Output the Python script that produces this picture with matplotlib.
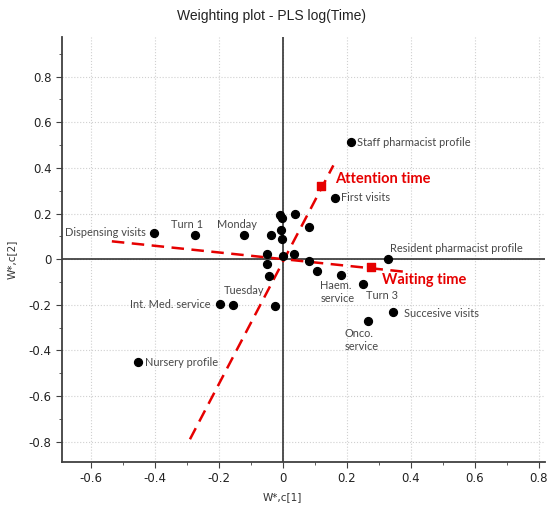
import numpy as np
import matplotlib.pyplot as plt
from matplotlib.ticker import MultipleLocator

# weights of the X variables (w*c[1], w*c[2])
labels = ["Staff pharmacist profile", "First visits", "Resident pharmacist profile",
          "Dispensing visits", "Turn 1", "Monday", "Tuesday", "Int. Med. service",
          "Nursery profile", "Haem.\nservice", "Turn 3", "Succesive visits", "Onco.\nservice"]
lab_x = [0.214, 0.164, 0.328, -0.403, -0.274, -0.120, -0.024, -0.196, -0.451, 0.183, 0.252, 0.344, 0.265]
lab_y = [0.513, 0.268, 0.000, 0.113, 0.105, 0.105, -0.205, -0.196, -0.452, -0.070, -0.110, -0.232, -0.272]

# unlabelled points near the origin
other_x = [-0.010, -0.001, 0.037, 0.083, -0.007, -0.037, -0.003, -0.048, 0.000, 0.035, 0.081, -0.050, -0.043, -0.156, 0.107]
other_y = [0.194, 0.180, 0.199, 0.139, 0.129, 0.104, 0.088, 0.023, 0.015, 0.022, -0.007, -0.022, -0.076, -0.200, -0.053]

# Y responses
resp = ["Attention time", "Waiting time"]
resp_x = [0.120, 0.276]
resp_y = [0.321, -0.034]
# ends of the dashed direction lines
line_x = [[-0.290, 0.158], [-0.534, 0.391]]
line_y = [[-0.790, 0.411], [0.078, -0.057]]

# label offsets in pixels (layout)
offs = [(6, 0, "left"), (6, 0, "left"), (2, 11, "left"), (-8, 1, "right"), (-8, 11, "center"),
        (-7, 11, "center"), (-31, 15, "center"), (-10, -1, "right"), (7, 0, "left"),
        (-21, -17, "left"), (3, -11, "left"), (11, -1, "left"), (-23, -19, "left")]
resp_offs = [(14, 7), (11, -13)]

red = "#e60000"
fig = plt.figure(figsize=(5.48, 5.18), dpi=100)
ax = fig.add_axes([0.113, 0.108, 0.882, 0.821])

ax.set_xlim(-0.69, 0.82)
ax.set_ylim(-0.89, 0.975)
ax.xaxis.set_major_locator(MultipleLocator(0.2))
ax.xaxis.set_minor_locator(MultipleLocator(0.1))
ax.yaxis.set_major_locator(MultipleLocator(0.2))
ax.yaxis.set_minor_locator(MultipleLocator(0.1))
ax.grid(True, which="major", color="#d0d0d0", linestyle=":", linewidth=0.8)
ax.set_axisbelow(True)
for s in ["top", "right"]:
    ax.spines[s].set_visible(False)
for s in ["left", "bottom"]:
    ax.spines[s].set_color("#404040")
    ax.spines[s].set_linewidth(1.3)
ax.tick_params(which="major", length=4, color="#404040", labelsize=8.5, labelcolor="#222222")
ax.tick_params(which="minor", length=2, color="#404040")
fmt = lambda v, p: "0" if abs(v) < 1e-9 else ("%.1f" % v)
ax.xaxis.set_major_formatter(plt.FuncFormatter(fmt))
ax.yaxis.set_major_formatter(plt.FuncFormatter(fmt))

ax.axhline(0, color="#333333", lw=1.2, zorder=1)
ax.axvline(0, color="#333333", lw=1.2, zorder=1)

for lx, ly in zip(line_x, line_y):
    ax.plot(lx, ly, color=red, lw=1.8, dashes=(5, 3), zorder=2)

ax.scatter(lab_x + other_x, lab_y + other_y, s=32, color="black", zorder=3)
ax.scatter(resp_x, resp_y, s=32, marker="s", color=red, zorder=3)

for t, x, y, (dx, dy, ha) in zip(labels, lab_x, lab_y, offs):
    ax.annotate(t, (x, y), xytext=(dx, dy), textcoords="offset pixels", ha=ha, va="center",
                fontsize=7.9, color="#474747", family="Lato", linespacing=1.25)
for t, x, y, (dx, dy) in zip(resp, resp_x, resp_y, resp_offs):
    ax.annotate(t, (x, y), xytext=(dx, dy), textcoords="offset pixels", ha="left", va="center",
                fontsize=10.5, color=red, fontweight="bold", family="Lato")

fig.text(0.495, 0.969, "Weighting plot - PLS log(Time)", ha="center", va="center", fontsize=10,
         color="#222222", family="Liberation Sans")
fig.text(0.516, 0.040, "W*,c[1]", ha="center", va="center", fontsize=7.5, color="#333333")
fig.text(0.022, 0.50, "W*,c[2]", ha="center", va="center", rotation=90, fontsize=7.5, color="#333333")

plt.savefig("out.png", dpi=100)
